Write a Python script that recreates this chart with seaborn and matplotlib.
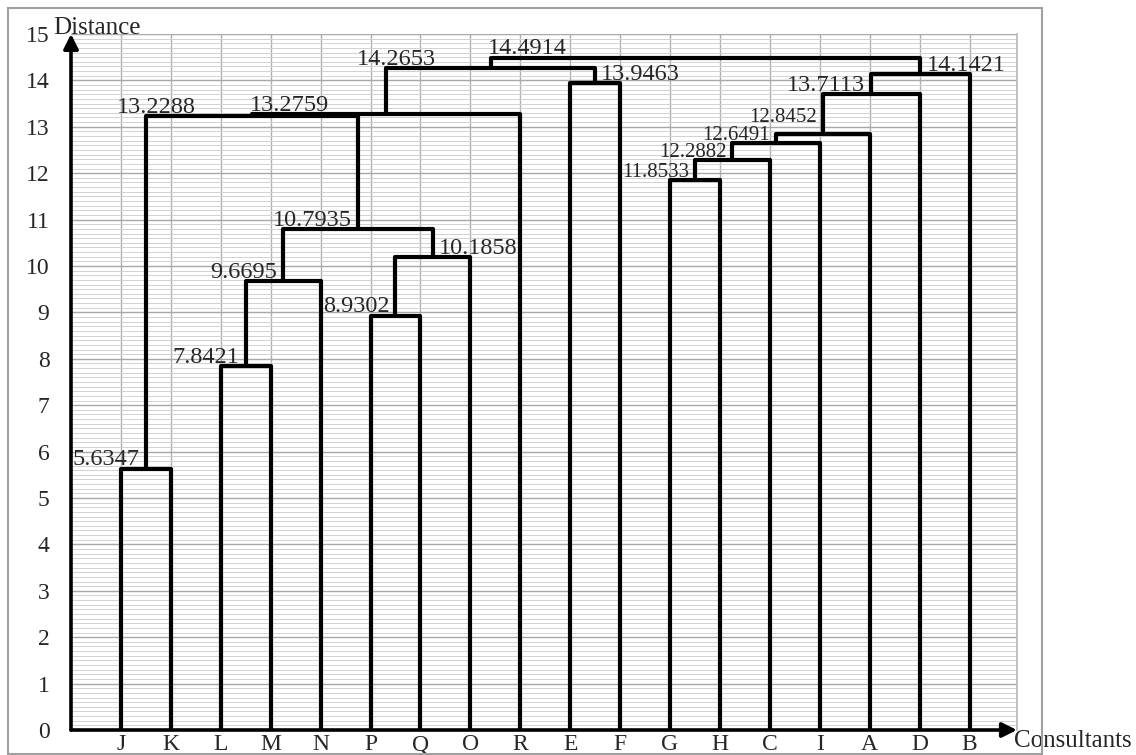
import matplotlib
matplotlib.use("Agg")
import matplotlib.pyplot as plt
import matplotlib.patches as patches
import numpy as np
import pandas as pd
import seaborn as sns

# leaf order along the x axis
leaves = ["J", "K", "L", "M", "N", "P", "Q", "O", "R", "E", "F",
          "G", "H", "C", "I", "A", "D", "B"]

# merges, in the order they are built (cluster name = left + right)
merge_left = ["J", "L", "LM", "P", "PQ", "LMN", "JK", "JKLMNPQO", "E",
              "JKLMNPQOR", "G", "GH", "GHC", "GHCI", "GHCIA", "GHCIAD",
              "JKLMNPQOREF"]
merge_right = ["K", "M", "N", "Q", "O", "PQO", "LMNPQO", "R", "F",
               "EF", "H", "C", "I", "A", "D", "B", "GHCIADB"]
merge_height = [5.6347, 7.8421, 9.6695, 8.9302, 10.1858, 10.7935, 13.2288,
                13.2759, 13.9463, 14.2653, 11.8533, 12.2882, 12.6491,
                12.8452, 13.7113, 14.1421, 14.4914]

# label placement: l = left of the link's stem, r = right of it,
# c = centred near the link's left end, a = starting at the left end
label_side = ["l", "l", "l", "l", "r", "l", "c", "a", "r",
              "c", "l", "l", "l", "l", "l", "r", "a"]
label_size = [17.5, 17.5, 17.5, 17.5, 17.5, 17.5, 17.5, 17.5, 17.5,
              17.5, 15, 15, 15, 15, 17.5, 17.5, 17.5]
label_dy = [0.07] * 13 + [0.25] + [0.07] * 3

sns.set_theme(style="white")
plt.rcParams["font.family"] = ["Liberation Serif", "DejaVu Serif"]

# build the U shaped links
pos = {name: i + 1 for i, name in enumerate(leaves)}
hgt = {name: 0.0 for name in leaves}
rows = []
centers = []
lefts = []
for k, (l, r, h) in enumerate(zip(merge_left, merge_right, merge_height)):
    xl, xr = pos[l], pos[r]
    for px, py in [(xl, hgt[l]), (xl, h), (xr, h), (xr, hgt[r])]:
        rows.append({"link": k, "x": px, "y": py})
    pos[l + r] = (xl + xr) / 2
    hgt[l + r] = h
    centers.append(pos[l + r])
    lefts.append(xl)
seg = pd.DataFrame(rows)

fig, ax = plt.subplots(figsize=(11.36, 7.55), dpi=100)
fig.subplots_adjust(left=0.0625, right=0.8952, bottom=0.0331, top=0.955)

sns.lineplot(data=seg, x="x", y="y", units="link", estimator=None, sort=False,
             color="black", linewidth=3, ax=ax, legend=False)

ax.set_xlim(0, 18.95)
ax.set_ylim(0, 15)
ax.set_xticks(range(1, len(leaves) + 1))
ax.set_xticklabels(leaves)
ax.set_yticks(range(0, 16))
ax.set_yticks(np.arange(0, 15.01, 0.1), minor=True)
ax.tick_params(axis="x", length=0, pad=3, labelsize=17)
ax.tick_params(axis="y", which="major", length=6.5, width=1, color="#909090",
               labelsize=17, pad=9)
ax.tick_params(axis="y", which="minor", length=0)
ax.grid(axis="y", which="minor", color="#d2d2d2", lw=0.7)
ax.grid(axis="y", which="major", color="#a8a8a8", lw=1)
ax.grid(axis="x", which="major", color="#b0b0b0", lw=1)
ax.set_axisbelow(True)
for s in ["top", "left", "bottom"]:
    ax.spines[s].set_visible(False)
ax.spines["right"].set_color("#b8b8b8")
ax.set_xlabel("")
ax.set_ylabel("")

# axes drawn as arrows
arrow = dict(arrowstyle="-|>", color="black", lw=2.6, mutation_scale=22,
             shrinkA=0, shrinkB=0)
ax.annotate("", xy=(0, 15), xytext=(0, 0), arrowprops=arrow,
            annotation_clip=False)
ax.annotate("", xy=(18.95, 0), xytext=(0, 0), arrowprops=arrow,
            annotation_clip=False)
ax.text(-0.36, 15, "Distance", ha="left", va="baseline", fontsize=18,
        clip_on=False)
ax.text(18.9, -0.37, "Consultants", ha="left", va="baseline", fontsize=18,
        clip_on=False)

# height labels
for c, xl, h, side, fs, dy in zip(centers, lefts, merge_height, label_side,
                                  label_size, label_dy):
    txt = f"{h:.4f}"
    if side == "l":
        ax.text(c - 0.12, h + dy, txt, ha="right", va="baseline", fontsize=fs)
    elif side == "r":
        ax.text(c + 0.12, h + dy, txt, ha="left", va="baseline", fontsize=fs)
    elif side == "a":
        ax.text(xl - 0.05, h + dy, txt, ha="left", va="baseline", fontsize=fs)
    else:
        ax.text(xl + 0.2, h + dy, txt, ha="center", va="baseline", fontsize=fs)

fig.patches.append(patches.Rectangle((8 / 1136, 1 / 755), 1034 / 1136, 746 / 755,
                                     transform=fig.transFigure, fill=False,
                                     ec="#a0a0a0", lw=1.5))

fig.savefig("out.png", dpi=100)
